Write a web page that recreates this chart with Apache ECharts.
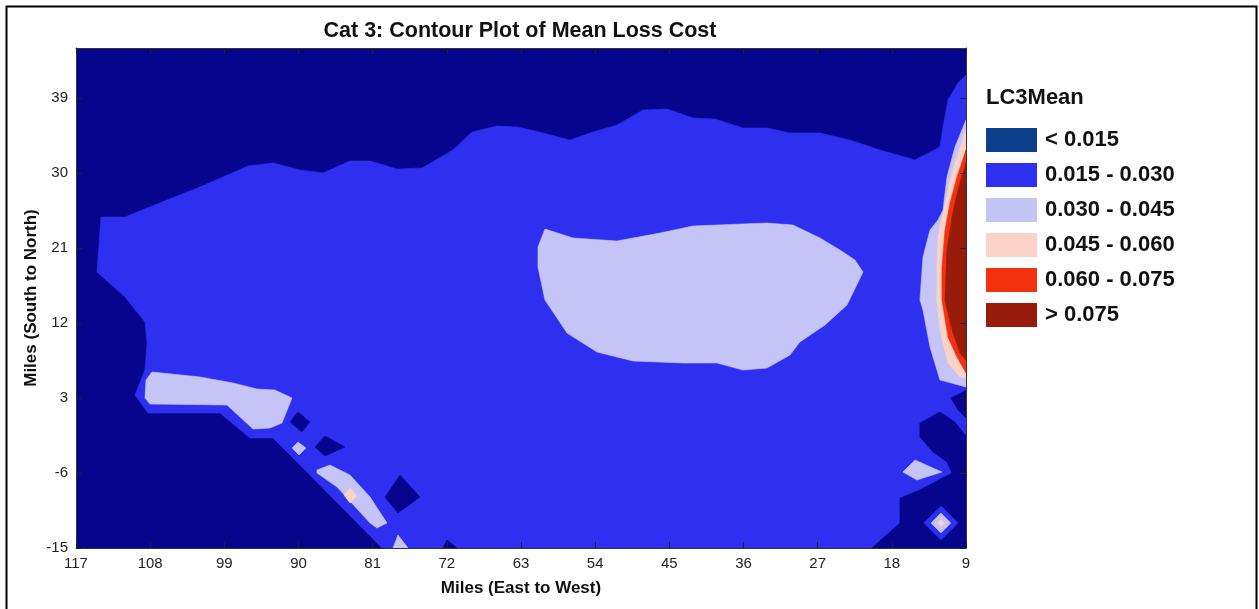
<!DOCTYPE html>
<html>
<head>
<meta charset="utf-8">
<script src="https://cdn.jsdelivr.net/npm/echarts@6/dist/echarts.min.js"></script>
<style>
  html, body { margin: 0; padding: 0; background: #fff; }
  #chart { width: 1259px; height: 609px; }
</style>
</head>
<body>
<div id="chart"></div>
<script>
// Axis tick values (miles)
const xTicks = [117, 108, 99, 90, 81, 72, 63, 54, 45, 36, 27, 18, 9];
const yTicks = [-15, -6, 3, 12, 21, 30, 39];

// Contour bands of LC3Mean
const levels = ['< 0.015', '0.015 - 0.030', '0.030 - 0.045', '0.045 - 0.060', '0.060 - 0.075', '> 0.075'];

// Filled contour outlines, [miles east-west, miles south-north]
const bandDomain = [
  [[117, -15], [9, -15], [9, 45], [117, 45]]
];

const band2Main = [
  [[113.97, 24.72], [111.05, 24.72], [105.96, 26.76], [101.95, 28.32], [96.13, 30.84], [93.10, 31.2],
   [89.82, 30.36], [87.03, 30.0], [83.75, 31.44], [81.32, 31.44], [78.05, 30.48], [75.01, 30.6],
   [71.25, 32.76], [68.95, 34.92], [65.91, 35.64], [63.37, 35.52], [60.33, 34.8], [57.06, 33.96],
   [54.27, 34.92], [51.35, 35.76], [48.20, 37.56], [45.28, 37.68], [42.13, 36.6], [39.46, 36.48],
   [36.06, 35.4], [33.15, 35.4], [30.36, 34.8], [26.72, 34.8], [23.08, 33.96], [19.44, 32.76],
   [15.19, 31.56], [12.16, 33.12], [11.79, 35.52], [11.19, 38.76], [9.97, 40.8], [9, 41.76],
   [9, -15], [79.87, -15], [91.03, -3.84], [93.10, -1.8], [95.89, -1.8], [99.53, 1.2],
   [108.26, 1.2], [109.84, 3.36], [108.63, 6.36], [108.38, 9.6], [108.63, 12.12], [111.05, 15.12],
   [114.45, 18.12]]
];

const band1Holes = [
  [[91.03, 0.12], [90.06, 1.32], [88.61, 0.12], [89.58, -1.08]],
  [[88.0, -2.88], [86.79, -1.56], [84.36, -2.88], [86.79, -3.96]],
  [[79.50, -8.88], [77.68, -6.24], [75.26, -8.88], [77.93, -10.8]],
  [[72.47, -15], [71.98, -14.04], [70.77, -15]],
  [[10.82, 3.0], [9, 3.9], [9, 0.6], [9.97, 1.56]],
  [[14.59, 0.0], [12.16, 1.32], [10.34, 0.12], [9, -1.56], [9, -15], [20.41, -15], [17.01, -12.0],
   [17.01, -9.0], [14.59, -8.04], [10.70, -6.0], [11.31, -4.68], [13.01, -3.48], [14.59, -1.68]]
];

const band2Spots = [
  [[14.1, -12.0], [12.04, -9.95], [9.98, -12.0], [12.04, -14.05]]
];

const band3 = [
  [[107.78, 6.12], [101.95, 5.52], [97.95, 4.8], [95.04, 4.08], [92.85, 3.96], [90.79, 3.0],
   [92.0, 0.0], [93.46, -0.6], [95.52, -0.72], [98.68, 2.16], [108.02, 2.28], [108.63, 3.0], [108.5, 5.16]],
  [[90.79, -3.0], [90.06, -2.28], [89.09, -3.0], [89.94, -3.84]],
  [[87.76, -5.64], [86.18, -5.04], [83.75, -6.24], [81.32, -8.88], [79.26, -12.0], [80.48, -12.6],
   [81.32, -12.0], [85.33, -7.68], [87.76, -6.0]],
  [[78.53, -15], [77.93, -13.44], [76.71, -15]],
  [[60.09, 23.28], [56.69, 22.2], [51.35, 21.84], [46.13, 22.8], [42.13, 23.64], [33.15, 24.0],
   [30.0, 23.76], [26.72, 22.2], [24.29, 20.76], [22.47, 19.56], [21.50, 18.12], [23.44, 14.16],
   [26.11, 11.76], [29.15, 9.72], [30.36, 8.16], [33.15, 6.6], [36.06, 6.36], [39.22, 7.2],
   [43.34, 7.2], [49.41, 7.44], [53.78, 8.52], [57.42, 10.8], [60.09, 14.76], [60.94, 18.72], [60.94, 21.12]],
  [[16.65, -5.88], [15.19, -4.44], [11.92, -5.88], [14.95, -6.84]],
  [[9, 36.36], [10.34, 33.12], [11.31, 29.52], [11.79, 25.56], [12.40, 24.36], [13.37, 23.16],
   [14.22, 19.92], [14.59, 14.76], [14.22, 13.56], [13.37, 9.12], [12.16, 5.16], [9, 4.32]],
  [[13.24, -12.0], [12.04, -10.8], [10.84, -12.0], [12.04, -13.2]]
];

const band4 = [
  [[9, 35.16], [10.70, 30.0], [11.79, 25.2], [12.40, 22.32], [12.53, 19.2], [12.53, 14.76],
   [12.16, 11.16], [11.19, 7.2], [9.73, 5.52], [9, 5.4]],
  [[84.48, -8.64], [83.75, -7.8], [82.90, -8.76], [83.75, -9.6]],
  [[12.44, -12.0], [12.04, -11.6], [11.64, -12.0], [12.04, -12.4]]
];

const band5 = [
  [[9, 32.76], [10.10, 29.52], [10.94, 26.4], [11.55, 23.16], [11.92, 18.72], [11.92, 14.76],
   [11.19, 10.32], [10.10, 7.92], [9, 6.0]]
];

const band6 = [
  [[9, 31.2], [9.97, 27.96], [10.70, 24.72], [11.31, 20.76], [11.55, 14.76], [10.70, 11.16],
   [9.73, 8.4], [9, 7.56]]
];

// Fill colours for the plot and for the key
const fillColors = ['#05058e', '#2f2ff0', '#c4c4f6', '#fbd2c6', '#f2320f', '#991b0b'];
const keyColors = ['#0c408c', '#2f2ff0', '#c4c4f4', '#fad2c8', '#f2320f', '#991b0b'];

function contourSeries(name, color, polys) {
  return {
    type: 'custom',
    name: name,
    coordinateSystem: 'cartesian2d',
    silent: true,
    clip: true,
    data: polys.map(p => p[0]),
    renderItem: function (params, api) {
      const pts = polys[params.dataIndex].map(p => api.coord(p));
      return {
        type: 'polygon',
        shape: { points: pts },
        style: { fill: color, stroke: color, lineWidth: 0.6 }
      };
    }
  };
}

const tickStyle = { show: true, inside: true, length: 6, lineStyle: { color: '#222', width: 1 } };
const lineStyle = { show: true, onZero: false, lineStyle: { color: '#333', width: 1 } };
const labelFont = { fontFamily: 'Liberation Sans, Arial, sans-serif', fontSize: 15, color: '#222' };

const chart = echarts.init(document.getElementById('chart'), null, { renderer: 'canvas' });
chart.setOption({
  animation: false,
  backgroundColor: '#fff',
  title: {
    text: 'Cat 3: Contour Plot of Mean Loss Cost',
    left: 515,
    top: 15,
    textAlign: 'center',
    textStyle: { fontFamily: 'Liberation Sans, Arial, sans-serif', fontSize: 21.5, fontWeight: 'bold', color: '#111' }
  },
  grid: { left: 76, right: 293, top: 48, bottom: 61, show: false },
  legend: {
    orient: 'vertical',
    left: 986,
    top: 128,
    padding: 0,
    icon: 'rect',
    itemWidth: 51,
    itemHeight: 24,
    itemGap: 11,
    selectedMode: false,
    textStyle: { fontFamily: 'Liberation Sans, Arial, sans-serif', fontSize: 22, fontWeight: 'bold', color: '#111', padding: [0, 0, 0, 3], lineHeight: 24 },
    data: levels.map((n, i) => ({ name: n, itemStyle: { color: keyColors[i] } }))
  },
  graphic: [
    {
      type: 'text', left: 986, top: 87,
      style: { text: 'LC3Mean', fontFamily: 'Liberation Sans, Arial, sans-serif', fontSize: 22, fontWeight: 'bold', fill: '#111' }
    },
    {
      type: 'rect', left: 4, top: 4, silent: true,
      shape: { width: 1250, height: 612 },
      style: { fill: 'none', stroke: '#000', lineWidth: 2 }
    }
  ],
  xAxis: [
    {
      type: 'value', min: 9, max: 117, inverse: true, position: 'bottom', z: 10,
      name: 'Miles (East to West)', nameLocation: 'middle', nameGap: 32, nameMoveOverlap: false,
      nameTextStyle: { fontFamily: 'Liberation Sans, Arial, sans-serif', fontSize: 17, fontWeight: 'bold', color: '#111' },
      axisLine: lineStyle,
      axisTick: Object.assign({ customValues: xTicks }, tickStyle),
      axisLabel: Object.assign({ customValues: xTicks, margin: 8 }, labelFont),
      splitLine: { show: false }
    },
    {
      type: 'value', min: 9, max: 117, inverse: true, position: 'top', z: 10,
      axisLine: lineStyle,
      axisTick: Object.assign({ customValues: xTicks }, tickStyle),
      axisLabel: { show: false },
      splitLine: { show: false }
    }
  ],
  yAxis: [
    {
      type: 'value', min: -15, max: 45, position: 'left', z: 10,
      name: 'Miles (South to North)', nameLocation: 'middle', nameGap: 36, nameRotate: 90, nameMoveOverlap: false,
      nameTextStyle: { fontFamily: 'Liberation Sans, Arial, sans-serif', fontSize: 17, fontWeight: 'bold', color: '#111' },
      axisLine: lineStyle,
      axisTick: Object.assign({ customValues: yTicks }, tickStyle),
      axisLabel: Object.assign({ customValues: yTicks, margin: 8 }, labelFont),
      splitLine: { show: false }
    },
    {
      type: 'value', min: -15, max: 45, position: 'right', z: 10,
      axisLine: lineStyle,
      axisTick: Object.assign({ customValues: yTicks }, tickStyle),
      axisLabel: { show: false },
      splitLine: { show: false }
    }
  ],
  series: [
    contourSeries(levels[0], fillColors[0], bandDomain),
    contourSeries(levels[1], fillColors[1], band2Main),
    contourSeries(levels[0], fillColors[0], band1Holes),
    contourSeries(levels[1], fillColors[1], band2Spots),
    contourSeries(levels[2], fillColors[2], band3),
    contourSeries(levels[3], fillColors[3], band4),
    contourSeries(levels[4], fillColors[4], band5),
    contourSeries(levels[5], fillColors[5], band6)
  ]
});
</script>
</body>
</html>
